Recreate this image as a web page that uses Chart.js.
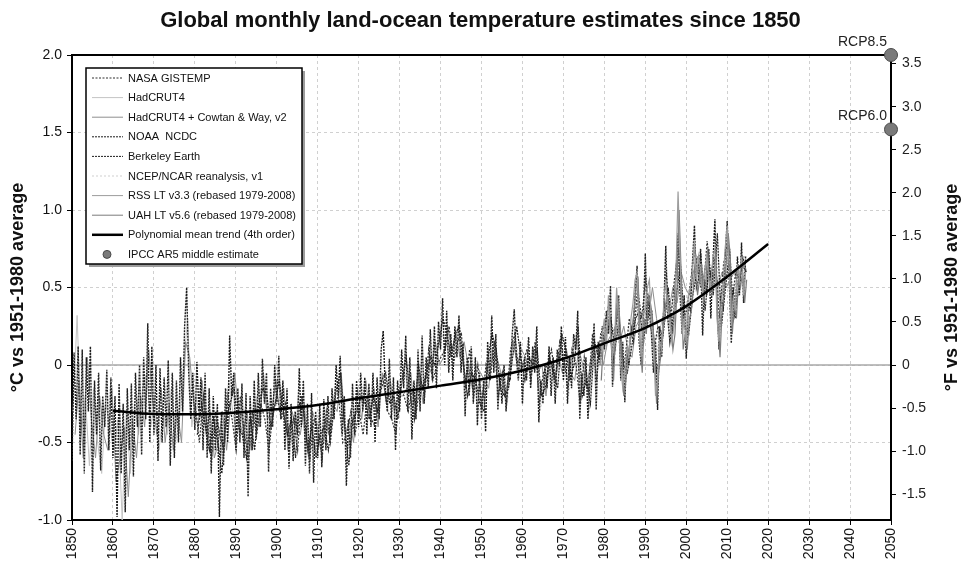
<!DOCTYPE html>
<html>
<head>
<meta charset="utf-8">
<script src="https://cdn.jsdelivr.net/npm/chart.js@4.4.0/dist/chart.umd.min.js"></script>
<style>html,body{margin:0;padding:0;background:#fff}canvas{display:block}</style>
</head>
<body>
<canvas id="chart" width="961" height="563"></canvas>
<script>
// Global land-ocean temperature anomalies (°C vs 1951-1980)
const chartTitle = 'Global monthly land-ocean temperature estimates since 1850';
const yTitleC = '°C vs 1951-1980 average';
const yTitleF = '°F vs 1951-1980 average';
const xTicks = [1850,1860,1870,1880,1890,1900,1910,1920,1930,1940,1950,1960,1970,1980,1990,2000,2010,2020,2030,2040,2050];
const cTicks = [-1,-0.5,0,0.5,1,1.5,2];
const fTicks = [-1.5,-1,-0.5,0,0.5,1,1.5,2,2.5,3,3.5];
const seriesNames = ['NASA GISTEMP','HadCRUT4','HadCRUT4 + Cowtan & Way, v2','NOAA  NCDC','Berkeley Earth',
  'NCEP/NCAR reanalysis, v1','RSS LT v3.3 (rebased 1979-2008)','UAH LT v5.6 (rebased 1979-2008)',
  'Polynomial mean trend (4th order)','IPCC AR5 middle estimate'];

// Berkeley Earth, two readings per year from 1850
const berkeleyStart = 1850, berkeleyStep = 0.5;
const berkeley = [
  -0.62,0.08,-0.35,0.12,-0.58,0.10,-0.70,0.05,-0.30,0.12,
  -0.82,-0.10,-0.45,-0.05,-0.68,-0.20,-0.40,-0.03,-0.55,-0.08,
  -0.60,-0.20,-0.98,-0.12,-0.70,-0.25,-0.95,-0.15,-0.55,-0.12,
  -0.72,-0.05,-0.40,0.00,-0.58,0.05,-0.35,0.27,-0.50,0.12,
  -0.45,0.00,-0.62,-0.02,-0.50,-0.08,-0.40,0.03,-0.65,-0.05,
  -0.60,-0.10,-0.50,0.05,-0.30,0.25,0.50,-0.05,-0.35,-0.05,
  -0.42,0.02,-0.30,-0.08,-0.55,-0.05,-0.60,-0.15,-0.70,-0.20,
  -0.55,-0.25,-0.98,-0.30,-0.65,-0.15,-0.50,0.19,-0.20,-0.05,
  -0.55,-0.15,-0.50,-0.12,-0.60,-0.18,-0.85,-0.20,-0.55,-0.10,
  -0.48,-0.05,-0.40,0.04,-0.25,-0.05,-0.69,-0.15,-0.40,0.00,
  -0.25,0.06,-0.35,-0.10,-0.55,-0.15,-0.67,-0.25,-0.62,-0.30,
  -0.45,-0.02,-0.40,-0.10,-0.65,-0.25,-0.70,-0.18,-0.76,-0.30,
  -0.60,-0.25,-0.66,-0.22,-0.55,-0.20,-0.50,-0.15,-0.35,0.00,
  -0.20,0.06,-0.45,-0.20,-0.78,-0.35,-0.60,-0.12,-0.45,-0.10,
  -0.40,-0.05,-0.30,-0.08,-0.45,-0.12,-0.40,-0.05,-0.50,-0.08,
  -0.35,0.10,0.22,-0.15,-0.30,0.04,-0.35,-0.08,-0.55,-0.10,
  -0.30,0.10,-0.15,0.19,-0.30,0.05,-0.48,-0.10,-0.35,0.10,
  -0.30,0.19,-0.25,0.05,-0.15,0.23,-0.10,0.25,-0.15,0.28,
  0.10,0.43,0.00,0.35,-0.05,0.20,-0.10,0.25,0.05,0.32,
  -0.05,0.14,-0.33,0.05,-0.20,0.12,-0.25,0.05,-0.39,-0.05,
  -0.35,-0.10,-0.43,0.15,-0.10,0.32,-0.05,0.20,-0.29,-0.05,
  -0.25,0.00,-0.30,-0.08,-0.10,0.20,0.36,0.05,-0.10,0.15,
  -0.25,0.05,-0.10,0.18,-0.15,0.12,-0.05,0.25,-0.37,-0.10,
  -0.25,0.00,-0.15,0.12,-0.20,0.05,-0.25,0.10,0.00,0.25,
  -0.10,0.18,-0.25,0.05,-0.15,0.20,0.10,0.35,-0.35,-0.05,
  -0.20,0.05,-0.35,-0.10,0.05,0.27,-0.29,0.15,0.00,0.25,
  0.10,0.35,0.20,0.51,-0.14,0.20,0.30,0.45,-0.10,0.15,
  -0.24,0.10,0.00,0.25,0.20,0.45,0.64,0.15,0.00,0.30,
  0.72,0.25,0.45,0.20,-0.05,0.15,-0.29,0.25,0.05,0.35,
  0.77,0.30,0.15,0.25,0.35,0.60,0.85,0.45,0.20,0.45,
  0.04,0.40,0.35,0.65,0.90,0.50,0.55,0.75,0.19,0.55,
  0.45,0.75,0.30,0.65,0.94,0.40,0.10,0.45,0.35,0.70,
  0.93,0.55,0.14,0.50,0.30,0.70,0.45,0.79,0.40,0.70
];

// HadCRUT4, one reading per year
const hadcrutStart = 1850.25;
const hadcrut = [
  -0.30,0.32,-0.45,-0.20,-0.65,-0.15,-0.50,-0.70,-0.25,-0.40,
  -0.55,-0.35,-1.00,-0.30,-0.70,-0.25,-0.45,-0.15,-0.05,-0.40,
  -0.20,-0.55,-0.30,-0.45,-0.15,-0.50,-0.35,0.00,0.30,-0.40,
  -0.20,-0.35,-0.15,-0.55,-0.45,-0.35,-0.60,-0.40,-0.10,-0.30,
  -0.45,-0.30,-0.50,-0.40,-0.35,-0.20,-0.15,-0.25,-0.45,-0.20,
  -0.10,-0.25,-0.40,-0.45,-0.55,-0.20,-0.35,-0.50,-0.45,-0.55,
  -0.45,-0.50,-0.35,-0.40,-0.15,-0.10,-0.35,-0.55,-0.40,-0.30,
  -0.25,-0.20,-0.30,-0.25,-0.30,-0.15,-0.05,-0.20,-0.20,-0.35,
  -0.10,-0.05,-0.15,-0.25,-0.10,-0.15,-0.10,0.05,0.05,0.10,
  0.20,0.15,0.05,0.10,0.25,0.05,-0.10,-0.05,-0.10,-0.15,
  -0.20,-0.05,0.05,0.15,-0.10,-0.15,-0.20,0.05,0.10,0.00,
  -0.05,0.05,0.02,0.10,-0.20,-0.10,-0.05,-0.02,-0.08,0.10,
  0.00,-0.10,0.05,0.20,-0.15,-0.05,-0.20,0.15,0.00,0.10,
  0.25,0.30,0.05,0.35,0.05,0.00,0.15,0.35,0.40,0.20,
  0.45,0.40,0.15,0.20,0.30,0.45,0.35,0.50,0.75,0.35,
  0.30,0.50,0.60,0.60,0.50,0.65,0.55,0.60,0.40,0.60,
  0.70,0.45,0.55,0.60,0.65
];

// HadCRUT4 + Cowtan & Way
const cowtanStart = 1850.75;
const cowtan = [
  -0.45,-0.10,-0.60,0.05,-0.35,-0.60,-0.20,-0.45,-0.55,-0.15,
  -0.75,-0.60,-0.40,-0.85,-0.35,-0.60,-0.20,-0.40,0.10,-0.25,
  -0.45,-0.15,-0.50,-0.25,-0.55,-0.30,-0.50,0.15,0.05,-0.25,
  -0.40,-0.10,-0.45,-0.30,-0.60,-0.50,-0.30,-0.55,-0.25,-0.05,
  -0.35,-0.45,-0.30,-0.55,-0.25,-0.40,-0.05,-0.35,-0.30,-0.10,
  -0.30,-0.15,-0.55,-0.30,-0.40,-0.45,-0.25,-0.60,-0.30,-0.40,
  -0.55,-0.35,-0.45,-0.25,-0.30,-0.05,-0.45,-0.35,-0.50,-0.15,
  -0.35,-0.10,-0.35,-0.15,-0.40,-0.05,-0.25,-0.10,-0.30,-0.20,
  -0.20,-0.15,-0.05,-0.35,-0.05,-0.25,0.00,-0.05,0.15,0.00,
  0.05,0.25,0.10,0.20,0.05,0.15,0.00,-0.15,0.00,-0.05,
  -0.10,-0.15,0.10,0.05,-0.05,-0.20,-0.05,0.15,0.00,0.10,
  0.05,-0.05,0.10,-0.05,0.00,-0.20,0.05,-0.10,0.05,-0.05,
  0.10,-0.05,-0.10,0.10,0.00,-0.15,0.05,0.05,0.15,0.00,
  0.15,0.20,0.25,0.15,0.25,0.10,0.05,0.25,0.30,0.35,
  0.30,0.50,0.30,0.10,0.40,0.35,0.50,0.40,0.60,0.50,
  0.45,0.60,0.70,0.50,0.65,0.55,0.70,0.50,0.60,0.50,
  0.55,0.60,0.50,0.70,0.60
];

// NASA GISTEMP, from 1880
const nasaStart = 1880.1;
const nasa = [
  -0.25,-0.50,-0.20,-0.40,-0.60,-0.30,-0.45,-0.55,-0.20,-0.35,
  -0.55,-0.20,-0.45,-0.60,-0.30,-0.45,-0.25,-0.35,-0.55,-0.30,
  -0.20,-0.35,-0.25,-0.50,-0.35,-0.55,-0.20,-0.45,-0.60,-0.35,
  -0.40,-0.60,-0.30,-0.50,-0.25,-0.20,-0.50,-0.45,-0.30,-0.45,
  -0.30,-0.45,-0.20,-0.35,-0.40,-0.20,-0.10,-0.30,-0.35,-0.45,
  -0.15,-0.20,-0.30,-0.15,-0.30,-0.10,-0.20,0.10,-0.10,0.00,
  0.05,0.10,0.25,0.00,0.15,0.20,-0.15,0.10,-0.20,0.00,
  -0.25,0.00,-0.10,0.15,-0.20,-0.05,-0.25,0.10,0.20,-0.05,
  0.00,0.10,-0.10,0.15,-0.25,-0.05,0.00,0.10,-0.10,0.15,
  0.05,-0.15,0.10,0.00,-0.25,0.05,-0.15,0.20,-0.10,0.20,
  0.25,0.40,0.00,0.40,-0.05,0.05,0.30,0.15,0.50,0.30,
  0.55,0.30,0.10,0.25,0.20,0.60,0.25,0.55,0.75,0.30,
  0.35,0.55,0.75,0.55,0.45,0.80,0.55,0.70,0.30,0.65,
  0.80,0.40,0.60,0.55,0.70
];

// NOAA NCDC, from 1880
const noaaStart = 1880.6;
const noaa = [
  -0.45,-0.25,-0.40,-0.55,-0.35,-0.50,-0.70,-0.35,-0.25,-0.15,
  -0.40,-0.45,-0.60,-0.35,-0.55,-0.25,-0.15,-0.20,-0.40,-0.25,
  -0.10,-0.30,-0.45,-0.35,-0.60,-0.25,-0.30,-0.55,-0.40,-0.60,
  -0.45,-0.40,-0.55,-0.35,-0.15,-0.05,-0.40,-0.65,-0.35,-0.30,
  -0.20,-0.25,-0.35,-0.20,-0.30,-0.10,-0.05,-0.25,-0.20,-0.35,
  -0.10,0.05,-0.20,-0.35,0.00,-0.15,-0.05,0.05,0.00,0.15,
  0.30,0.20,0.05,0.20,0.25,0.00,-0.20,-0.05,-0.10,-0.25,
  -0.30,0.05,0.20,0.10,-0.15,-0.20,-0.15,0.05,0.25,0.05,
  -0.10,0.05,0.00,0.10,-0.20,-0.15,0.05,-0.05,-0.15,0.20,
  0.10,-0.10,0.00,0.25,-0.20,-0.10,-0.25,0.15,0.05,0.15,
  0.20,0.30,0.10,0.30,0.00,-0.05,0.10,0.30,0.35,0.15,
  0.40,0.35,-0.05,0.05,0.25,0.50,0.20,0.45,0.65,0.25,
  0.20,0.45,0.60,0.70,0.35,0.65,0.45,0.85,0.25,0.50,
  0.75,0.30,0.45,0.65,0.60
];

// NCEP/NCAR reanalysis, from 1948
const ncepStart = 1948.3;
const ncep = [
  -0.10,-0.30,
  -0.25,0.05,0.10,0.00,-0.20,-0.10,-0.25,0.00,0.15,0.05,
  0.00,0.15,-0.05,0.05,-0.30,-0.15,0.00,-0.10,-0.05,0.10,
  -0.05,-0.20,0.15,0.10,-0.20,0.00,-0.30,0.10,-0.05,0.05,
  0.15,0.25,-0.05,0.25,0.05,0.10,0.20,0.25,0.40,0.10,
  0.35,0.25,0.00,0.15,0.20,0.45,0.15,0.40,0.65,0.35,
  0.25,0.50,0.55,0.65,0.40,0.60,0.50,0.75,0.35,0.55,
  0.65,0.35,0.50,0.60,0.55
];

// Satellite lower troposphere, two readings per year from 1979
const rssStart = 1979, uahStart = 1979.25, satStep = 0.5;
const rss = [
  0.00,0.20,0.30,0.10,0.45,0.20,0.05,0.15,0.50,0.25,
  0.00,-0.15,-0.05,0.10,0.05,0.30,0.40,0.55,0.60,0.20,
  0.05,0.35,0.35,0.50,0.55,0.25,0.15,-0.20,-0.10,0.15,
  0.10,0.40,0.55,0.35,0.30,0.15,0.25,0.60,1.12,0.70,
  0.20,0.30,0.15,0.45,0.50,0.60,0.80,0.55,0.70,0.60,
  0.45,0.60,0.70,0.55,0.50,0.70,0.75,0.30,0.15,0.40,
  0.50,0.75,0.90,0.60,0.25,0.45,0.35,0.65,0.55,0.70,
  0.45,0.60
];
const uah = [
  -0.10,0.15,0.20,0.25,0.30,0.10,-0.10,0.25,0.45,0.30,
  0.10,-0.20,-0.10,0.05,0.15,0.20,0.35,0.50,0.55,0.15,
  -0.05,0.30,0.20,0.45,0.40,0.30,0.10,-0.25,-0.05,0.05,
  0.20,0.30,0.45,0.40,0.25,0.10,0.20,0.50,1.00,0.60,
  0.10,0.20,0.10,0.30,0.35,0.50,0.70,0.45,0.55,0.65,
  0.40,0.50,0.75,0.45,0.45,0.60,0.65,0.25,0.05,0.35,
  0.45,0.65,0.85,0.70,0.20,0.40,0.30,0.55,0.50,0.60,
  0.40,0.55
];

// 4th order polynomial trend, read every decade
const trendYears = [1860,1870,1880,1890,1900,1910,1920,1930,1940,1950,1960,1970,1980,1990,2000,2010,2020];
const trendValues = [-0.295,-0.316,-0.318,-0.307,-0.286,-0.258,-0.215,-0.175,-0.133,-0.092,-0.035,0.040,0.140,0.240,0.380,0.570,0.780];

// IPCC AR5 projections for 2050
const rcpNames = ['RCP8.5','RCP6.0'];
const rcpYear = 2050;
const rcpValues = [2.0, 1.52];

const FONT = "'Liberation Sans', Arial, Helvetica, sans-serif";
Chart.defaults.font.family = FONT;

const pts = (start, step, vals) => vals.map((v,i)=>({x:start+i*step, y:v}));
const line = (i, data, color, dash, order, width=1) => ({
  label: seriesNames[i], data, borderColor: color, backgroundColor: color, borderDash: dash,
  borderWidth: width, pointRadius: 0, tension: 0, order
});

const datasets = [
  line(0, pts(nasaStart,1,nasa), '#2e2e2e', [2,1.5], 2, 1.2),
  line(1, pts(hadcrutStart,1,hadcrut), '#c4c4c4', [], 4),
  line(2, pts(cowtanStart,1,cowtan), '#8e8e8e', [], 3),
  line(3, pts(noaaStart,1,noaa), '#1c1c1c', [2,1], 2, 1.2),
  line(4, pts(berkeleyStart,berkeleyStep,berkeley), '#1e1e1e', [2,1], 2, 1.4),
  line(5, pts(ncepStart,1,ncep), '#cfcfcf', [2,2], 4),
  line(6, pts(rssStart,satStep,rss), '#9c9c9c', [], 1, 1.2),
  line(7, pts(uahStart,satStep,uah), '#7c7c7c', [], 1, 1.2),
  { label: seriesNames[8], data: trendYears.map((y,i)=>({x:y, y:trendValues[i]})), borderColor:'#000', borderWidth:2.5,
    pointRadius:0, cubicInterpolationMode:'monotone', order:0 },
  { label: seriesNames[9], data: rcpValues.map(v=>({x:rcpYear, y:v})), showLine:false, pointRadius:6.5,
    pointBackgroundColor:'#7a7a7a', pointBorderColor:'#4a4a4a', pointBorderWidth:1, backgroundColor:'#7a7a7a', clip:false, order:0 }
];

// zero line + frame under the data
const framePlugin = {
  id:'frame',
  beforeDatasetsDraw(chart){
    const {ctx, chartArea:a, scales} = chart;
    const y0 = scales.y.getPixelForValue(0);
    ctx.save();
    ctx.strokeStyle='#a8a8a8'; ctx.lineWidth=1.5;
    ctx.beginPath(); ctx.moveTo(a.left,y0); ctx.lineTo(a.right,y0); ctx.stroke();
    ctx.strokeStyle='#000'; ctx.lineWidth=2;
    ctx.strokeRect(a.left,a.top,a.right-a.left,a.bottom-a.top);
    ctx.restore();
  }
};

// axis titles, RCP labels and the boxed legend
const overlayPlugin = {
  id:'overlay',
  afterDraw(chart){
    const {ctx, chartArea:a} = chart;
    const midY = (a.top+a.bottom)/2;
    ctx.save();
    ctx.fillStyle='#111'; ctx.textAlign='center'; ctx.textBaseline='middle';
    ctx.font = `bold 18px ${FONT}`;
    [[18,yTitleC],[952,yTitleF]].forEach(([x,t])=>{
      ctx.save(); ctx.translate(x,midY); ctx.rotate(-Math.PI/2); ctx.fillText(t,0,0); ctx.restore();
    });

    // RCP labels next to the projection points
    const meta = chart.getDatasetMeta(9);
    ctx.font = `14px ${FONT}`; ctx.textAlign='right'; ctx.fillStyle='#222';
    meta.data.forEach((p,i)=> ctx.fillText(rcpNames[i], p.x-4, p.y-13));

    // legend box
    const x0=86, y0=68, w=216, h=196;
    ctx.fillStyle='#9c9c9c'; ctx.fillRect(x0+3,y0+3,w,h);
    ctx.fillStyle='#fff'; ctx.fillRect(x0,y0,w,h);
    ctx.strokeStyle='#000'; ctx.lineWidth=1.5; ctx.strokeRect(x0,y0,w,h);
    ctx.font = `11px ${FONT}`; ctx.textAlign='left'; ctx.textBaseline='middle';
    chart.data.datasets.forEach((ds,i)=>{
      const y = y0 + 10 + i*19.6;
      if(ds.showLine===false){
        ctx.beginPath(); ctx.arc(107,y,4,0,Math.PI*2);
        ctx.fillStyle=ds.pointBackgroundColor; ctx.fill();
        ctx.strokeStyle=ds.pointBorderColor; ctx.lineWidth=1; ctx.stroke();
      } else {
        ctx.save();
        ctx.strokeStyle=ds.borderColor; ctx.lineWidth=Math.min(ds.borderWidth,1)*(ds.borderWidth>2?2.5:1); ctx.setLineDash(ds.borderDash||[]);
        ctx.beginPath(); ctx.moveTo(92,y); ctx.lineTo(123,y); ctx.stroke();
        ctx.restore();
      }
      ctx.fillStyle='#111'; ctx.fillText(ds.label,128,y+0.5);
    });
    ctx.restore();
  }
};

const fmt = v => v===0 ? '0' : v.toFixed(1);
const gridDash = { display:false, dash:[3,3] };

new Chart(document.getElementById('chart'), {
  type:'line',
  data:{ datasets },
  options:{
    responsive:false, animation:false, parsing:false, normalized:true,
    layout:{ padding:0 },
    plugins:{
      legend:{ display:false }, tooltip:{ enabled:false },
      title:{ display:true, text:chartTitle, color:'#111', font:{ size:22, weight:'bold' }, padding:{ top:8, bottom:20.6 } }
    },
    scales:{
      x:{
        type:'linear', min:1850, max:2050,
        afterBuildTicks: s => { s.ticks = xTicks.map(v=>({value:v})); },
        afterFit: s => { s.height = 43; },
        ticks:{ minRotation:90, maxRotation:90, padding:3, color:'#111', font:{ size:14 }, callback: v => String(v) },
        grid:{ color:'#d0d0d0', tickColor:'#000', tickLength:5 },
        border: gridDash
      },
      y:{
        type:'linear', position:'left', min:-1, max:2,
        afterBuildTicks: s => { s.ticks = cTicks.map(v=>({value:v})); },
        afterFit: s => { s.width = 72; },
        ticks:{ padding:5, color:'#111', font:{ size:14 }, callback: fmt },
        grid:{ color:'#d0d0d0', tickColor:'#000', tickLength:5 },
        border: gridDash
      },
      y2:{
        type:'linear', position:'right', min:-1*1.8, max:2*1.8,
        afterBuildTicks: s => { s.ticks = fTicks.map(v=>({value:v})); },
        afterFit: s => { s.width = 70; },
        ticks:{ padding:6, color:'#222', font:{ size:14 }, callback: fmt },
        grid:{ drawOnChartArea:false, tickColor:'#000', tickLength:5 },
        border:{ display:false }
      }
    }
  },
  plugins:[framePlugin, overlayPlugin]
});
</script>
</body>
</html>
